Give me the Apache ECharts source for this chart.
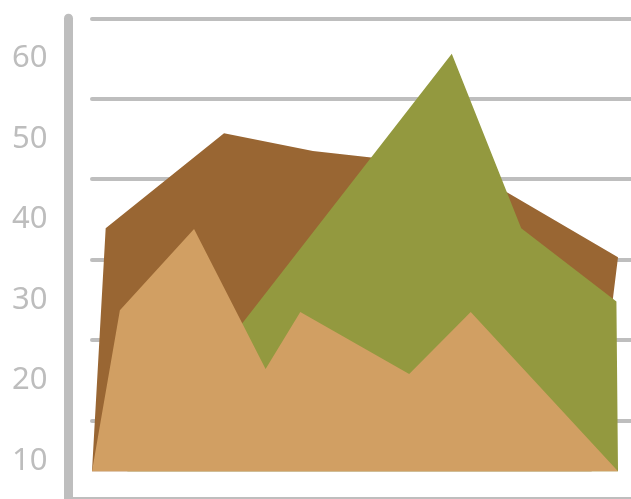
<!DOCTYPE html>
<html>
<head>
<meta charset="utf-8">
<script src="https://cdn.jsdelivr.net/npm/echarts@6/dist/echarts.min.js"></script>
<style>
html,body{margin:0;padding:0;background:#fff;width:631px;height:499px;overflow:hidden}
#c{position:absolute;left:0;top:0;width:680px;height:510px}
</style>
</head>
<body>
<div id="c"></div>
<script>
// Tick labels shown on the value axis
var yTickLabels = [10, 20, 30, 40, 50, 60];
// Baseline value the areas close on
var baseValue = 8.7;

// Series A (brown, back): x positions and values
var brownX = [0, 2.6, 25.1, 42.0, 71.0, 100, 95.0];
var brownY = [8.7, 38.9, 50.7, 48.5, 46.4, 35.3, 8.7];

// Series B (olive green, middle)
var greenX = [6.7, 68.4, 81.6, 99.7, 100];
var greenY = [8.7, 60.6, 38.9, 29.8, 8.7];

// Series C (tan, front)
var tanX = [0, 5.3, 19.4, 33.0, 39.6, 60.3, 72.0, 100];
var tanY = [8.7, 28.7, 38.8, 21.4, 28.5, 20.8, 28.5, 8.7];

function pairs(xs, ys) { return xs.map(function (x, i) { return [x, ys[i]]; }); }

var chart = echarts.init(document.getElementById('c'), null, { renderer: 'canvas' });
var gridGrey = '#BEBEBE';
var areaSeries = function (name, xs, ys, color) {
  return {
    name: name, type: 'line', xAxisIndex: 0, yAxisIndex: 0,
    data: pairs(xs, ys), symbol: 'none', silent: true,
    lineStyle: { width: 0, opacity: 0 },
    areaStyle: { color: color, opacity: 1, origin: baseValue }
  };
};

chart.setOption({
  animation: false,
  grid: [
    { left: 92, top: 18.3, width: 578.6, height: 482.7 },
    { left: 68.5, top: 18.3, width: 602.1, height: 482.7 }
  ],
  xAxis: [
    { type: 'value', gridIndex: 0, min: 0, max: 110, show: false },
    { type: 'value', gridIndex: 1, min: 0, max: 110,
      axisLine: { show: true, lineStyle: { color: gridGrey, width: 8 } },
      axisTick: { show: false }, axisLabel: { show: false }, splitLine: { show: false } }
  ],
  yAxis: [
    { type: 'value', gridIndex: 0, min: 5, max: 65, interval: 10,
      axisLine: { show: false }, axisTick: { show: false }, axisLabel: { show: false },
      splitLine: { show: true, lineStyle: { color: gridGrey, width: 4, cap: 'round' } } },
    { type: 'value', gridIndex: 0, position: 'left', offset: 23.5, min: 5, max: 65, interval: 5,
      axisLine: { show: true, lineStyle: { color: gridGrey, width: 9, cap: 'round' } },
      axisTick: { show: false }, splitLine: { show: false },
      axisLabel: {
        margin: 21, color: '#BDBDBD', fontSize: 31, fontFamily: 'Noto Sans',
        formatter: function (v) { return yTickLabels.indexOf(v) >= 0 ? String(v) : ''; }
      } },
    { type: 'value', gridIndex: 1, min: 5, max: 65, show: false }
  ],
  series: [
    areaSeries('brown', brownX, brownY, '#996633'),
    areaSeries('green', greenX, greenY, '#93993F'),
    areaSeries('tan', tanX, tanY, '#D19F63')
  ]
});
</script>
</body>
</html>
